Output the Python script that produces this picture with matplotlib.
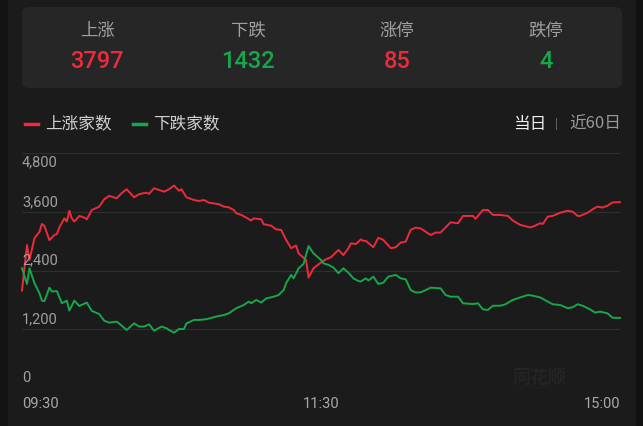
import matplotlib.pyplot as plt
from matplotlib.patches import FancyBboxPatch, Rectangle

plt.rcParams['font.family'] = ['Noto Sans CJK SC', 'DejaVu Sans']

# header summary
head_labels = ['上涨', '下跌', '涨停', '跌停']
head_values = ['3797', '1432', '85', '4']
head_colors = ['#ee2a3d', '#17a64c', '#ee2a3d', '#17a64c']

# minutes since 09:30 (trading minutes, 0..240) and counts
up_t = [0, 2, 3, 5, 7, 8, 9, 11, 13, 14, 15, 17, 18, 19, 20, 21, 23, 25, 26, 28,
        31, 33, 35, 38, 40, 42, 45, 47, 50, 51, 53, 55, 57, 59, 61, 63, 64, 66, 69, 71,
        73, 75, 79, 81, 83, 85, 86, 88, 90, 92, 93, 96, 97, 100, 102, 104, 106, 108, 110, 111,
        114, 115, 117, 120, 122, 124, 127, 129, 131, 132, 134, 136, 137, 138, 141, 143, 145, 148, 150, 152,
        154, 156, 158, 160, 164, 166, 168, 170, 172, 175, 177, 181, 182, 185, 187, 189, 192, 195, 197, 200,
        204, 205, 208, 209, 211, 213, 216, 219, 221, 223, 224, 227, 229, 231, 233, 235, 237, 240]
up_v = [1990, 2920, 2615, 3060, 3190, 3350, 3310, 3020, 3125, 3145, 3280, 3465, 3400, 3620, 3465, 3400, 3515, 3480, 3445, 3635,
        3705, 3855, 3925, 3875, 3980, 4060, 3895, 3960, 3990, 3965, 4080, 4045, 4010, 4060, 4135, 4030, 4060, 3895, 3840, 3820,
        3840, 3785, 3755, 3705, 3690, 3635, 3570, 3535, 3480, 3420, 3465, 3445, 3345, 3315, 3240, 3230, 3025, 2855, 2910, 2750,
        2615, 2255, 2445, 2565, 2630, 2670, 2820, 2715, 2855, 2955, 2940, 3035, 3005, 3005, 2875, 3070, 3025, 2855, 2875, 2970,
        2990, 3230, 3275, 3260, 3125, 3175, 3175, 3280, 3385, 3365, 3515, 3515, 3455, 3635, 3635, 3535, 3535, 3515, 3420, 3330,
        3280, 3295, 3365, 3350, 3500, 3515, 3580, 3620, 3600, 3515, 3515, 3580, 3650, 3705, 3685, 3725, 3790, 3797]

down_t = [0, 2, 3, 5, 7, 8, 9, 11, 12, 14, 16, 18, 19, 20, 21, 23, 26, 28, 31, 33,
          35, 38, 40, 42, 45, 47, 49, 51, 53, 56, 58, 59, 61, 63, 65, 66, 69, 71, 74, 78,
          81, 83, 86, 89, 91, 92, 94, 96, 98, 101, 103, 105, 106, 108, 109, 111, 113, 115, 117, 120,
          121, 123, 125, 127, 129, 131, 133, 135, 136, 138, 139, 141, 143, 145, 147, 150, 152, 154, 156, 158,
          160, 162, 164, 168, 170, 172, 175, 177, 181, 183, 185, 187, 189, 192, 194, 197, 200, 203, 205, 208,
          211, 213, 216, 219, 221, 223, 225, 228, 230, 232, 235, 237, 240]
down_v = [2445, 2125, 2445, 2140, 1935, 1785, 1775, 2050, 1970, 1980, 1730, 1785, 1580, 1680, 1785, 1675, 1745, 1575, 1510, 1375,
          1335, 1355, 1275, 1185, 1320, 1255, 1255, 1300, 1170, 1255, 1220, 1185, 1130, 1205, 1205, 1320, 1390, 1390, 1405, 1460,
          1490, 1525, 1630, 1695, 1765, 1730, 1800, 1745, 1830, 1865, 1900, 2000, 2140, 2310, 2240, 2445, 2535, 2900, 2750, 2615,
          2545, 2515, 2460, 2345, 2445, 2355, 2240, 2185, 2175, 2240, 2195, 2275, 2125, 2150, 2275, 2310, 2240, 2220, 2000, 1950,
          1955, 2000, 2050, 2035, 1900, 1865, 1865, 1730, 1715, 1730, 1605, 1595, 1680, 1680, 1710, 1800, 1850, 1900, 1885, 1850,
          1765, 1710, 1695, 1630, 1650, 1710, 1680, 1605, 1540, 1560, 1525, 1435, 1432]

y_ticks = [0, 1200, 2400, 3600, 4800]
y_tick_labels = ['0', '1,200', '2,400', '3,600', '4,800']
x_ticks = [0, 120, 240]
x_tick_labels = ['09:30', '11:30', '15:00']

bg = '#1b1b1b'
W, H = 643, 426
fig = plt.figure(figsize=(6.43, 4.26), dpi=100, facecolor=bg)

# dark screen edges
fig.patches.append(Rectangle((0, 0), 7 / W, 1, transform=fig.transFigure, color='#131313', zorder=0))
fig.patches.append(Rectangle((636 / W, 0), 7 / W, 1, transform=fig.transFigure, color='#111111', zorder=0))

# header card
card = FancyBboxPatch((22 / W, 1 - 88 / H), (622 - 22) / W, (88 - 7) / H,
                      boxstyle='round,pad=0,rounding_size=0.012', transform=fig.transFigure,
                      facecolor='#262626', edgecolor='none', zorder=1)
fig.patches.append(card)

centers = [97, 248, 397, 546]
for cx, lab, val, col in zip(centers, head_labels, head_values, head_colors):
    fig.text(cx / W, 1 - 31 / H, lab, color='#a0a0a0', fontsize=12.5, ha='center', va='center')
    fig.text(cx / W, 1 - 61 / H, val, color=col, fontsize=17, ha='center', va='center',
             fontweight='medium', family=['Roboto', 'DejaVu Sans'])

# legend row
fig.add_artist(plt.Line2D([25 / W, 38 / W], [1 - 124 / H] * 2, color='#ee2a3d', lw=2.5))
fig.text(45 / W, 1 - 124 / H, '上涨家数', color='#d0d0d0', fontsize=12, va='center')
fig.add_artist(plt.Line2D([133 / W, 146 / W], [1 - 124 / H] * 2, color='#17a64c', lw=2.5))
fig.text(153 / W, 1 - 124 / H, '下跌家数', color='#d0d0d0', fontsize=12, va='center')
fig.text(546 / W, 1 - 124 / H, '当日', color='#f0f0f0', fontsize=12, va='center', ha='right')
fig.text(556 / W, 1 - 124 / H, '|', color='#777777', fontsize=8, va='center', ha='center')
fig.text(621 / W, 1 - 124 / H, '近60日', color='#9a9a9a', fontsize=12, va='center', ha='right')

ax = fig.add_axes([22 / W, 38 / H, (620 - 22) / W, (388 - 153) / H])
ax.set_facecolor(bg)
ax.set_xlim(0, 240)
ax.set_ylim(0, 4800)
for s in ax.spines.values():
    s.set_visible(False)
ax.set_xticks([])
ax.set_yticks([])
for yv in y_ticks:
    ax.axhline(yv, color='#2e2e2e', lw=0.9, zorder=1)

ax.plot(up_t, up_v, color='#ee2a3d', lw=1.4, zorder=3, clip_on=False)
ax.plot(down_t, down_v, color='#17a64c', lw=1.4, zorder=3, clip_on=False)

ytr = ax.get_yaxis_transform()
for yv, lab in zip(y_ticks, y_tick_labels):
    if yv == 4800:
        ax.text(0, yv - 40, lab, transform=ytr, color='#a0a0a0', fontsize=10.5, va='top', ha='left',
                family=['Roboto', 'DejaVu Sans'])
    else:
        ax.text(0, yv + 60, lab, transform=ytr, color='#a0a0a0', fontsize=10.5, va='bottom', ha='left',
                family=['Roboto', 'DejaVu Sans'])

xtr = ax.get_xaxis_transform()
aligns = ['left', 'center', 'right']
for xv, lab, al in zip(x_ticks, x_tick_labels, aligns):
    ax.text(xv, -0.07, lab, transform=xtr, color='#a8a8a8', fontsize=10.5, va='center', ha=al,
            family=['Roboto', 'DejaVu Sans'])

# faint watermark
ax.text(0.866, 0.045, '同花顺', transform=ax.transAxes, color='#242424', fontsize=13,
        fontweight='bold', style='italic', ha='center', va='center', zorder=2)

fig.savefig('out.png', dpi=100, facecolor=bg)
